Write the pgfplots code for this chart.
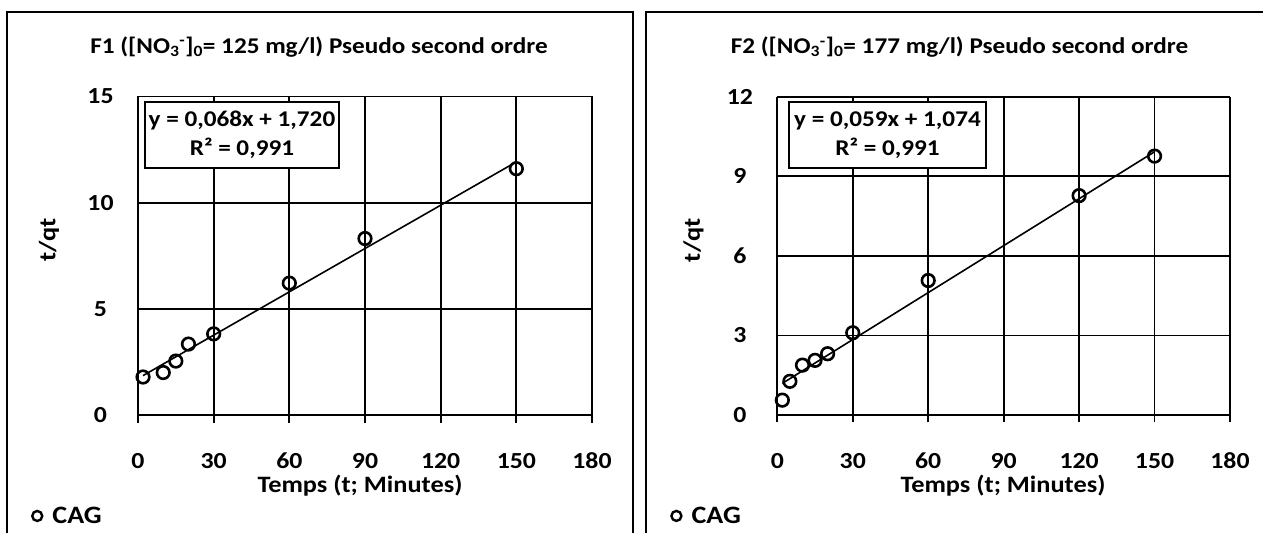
\documentclass[border=0pt]{standalone}
\usepackage{fontspec}
\setmainfont{Carlito}[FakeStretch=1.12]
\usepackage{pgfplots}
\pgfplotsset{compat=1.18}
\newcommand{\tickfont}{\bfseries\fontsize{23bp}{28bp}\selectfont}
\newcommand{\labfont}{\bfseries\fontsize{23.5bp}{28bp}\selectfont}
\newcommand{\titlefont}{\bfseries\fontsize{22.5bp}{28bp}\selectfont}
\newcommand{\boxfont}{\bfseries\fontsize{22.5bp}{29bp}\selectfont}
\newcommand{\legfont}{\bfseries\fontsize{25bp}{30bp}\selectfont}

\pgfplotsset{
  kin/.style={
    scale only axis, anchor=south west, clip=false,
    xmin=0, xmax=180, xtick={0,30,60,90,120,150,180},
    axis x line*=bottom, axis y line*=left,
    grid=major, major grid style={black, line width=1.8bp},
    axis line style={black, line width=1.8bp},
    tick align=outside, major tick length=7.5bp,
    xtick style={black, line width=1.8bp}, ytick style={draw=none},
    /pgf/number format/assume math mode=true,
    every tick label/.append style={font=\tickfont},
    xticklabel style={anchor=base, yshift=-46bp},
    yticklabel style={anchor=center, xshift=-30bp},
    label style={font=\labfont},
    title style={font=\titlefont, anchor=center},
    legend style={draw=none, fill=none, inner sep=0pt, anchor=west, font=\legfont},
  },
  pts/.style={only marks, mark=o, mark size=6.3bp,
    mark options={draw=black, fill=white, line width=2.6bp},
    legend image code/.code={\draw[line width=2.4bp, fill=white] (6bp,0bp) circle (5bp); \path (19bp,0bp);}},
  fit/.style={black, line width=1.6bp, no marks, forget plot},
}

\pgfplotstableread{
t    y
2    1.79
10   2.00
15   2.54
20   3.34
30   3.82
60   6.21
90   8.31
150  11.60
}\dataA

\pgfplotstableread{
t    y
2    0.56
5    1.27
10   1.88
15   2.06
20   2.31
30   3.10
60   5.07
120  8.27
150  9.76
}\dataB

\begin{document}
\begin{tikzpicture}[x=1bp, y=1bp]
\useasboundingbox (0bp,0bp) rectangle (1263bp,533bp);
% chart frames
\draw[line width=2.7bp] (7bp,-5bp) -- (7bp,521bp) -- (633bp,521bp) -- (633bp,-5bp);
\draw[line width=2.7bp] (646bp,-5bp) -- (646bp,521bp) -- (1270bp,521bp);

\begin{axis}[kin, at={(138bp,118bp)}, width=454bp, height=318.5bp,
  ymin=0, ymax=15, ytick={0,5,10,15},
  title={F1 ([NO\textsubscript{3}\textsuperscript{-}]\textsubscript{0}= 125 mg/l) Pseudo second ordre},
  title style={at={(axis description cs:0.3987,1.137)}},
  xlabel={Temps (t; Minutes)},
  xlabel style={at={(axis description cs:0.489,-0.223)}, anchor=center},
  ylabel={t/qt},
  ylabel style={at={(axis description cs:-0.196,0.549)}, anchor=center},
  legend style={at={(axis description cs:-0.236,-0.317)}},
]
\addplot[fit] coordinates {(2,1.856) (150,11.92)};
\addplot[pts] table[x=t, y=y] {\dataA};
\addlegendentry{CAG}
\node[draw, line width=2bp, fill=white, minimum width=194bp, minimum height=66bp,
  align=center, font=\boxfont, inner sep=0pt]
  at (axis description cs:0.229,0.879) {y = 0,068x + 1,720\\R² = 0,991};
\end{axis}

\begin{axis}[kin, at={(777.3bp,118bp)}, width=452.7bp, height=318.3bp,
  ymin=0, ymax=12, ytick={0,3,6,9,12},
  title={F2 ([NO\textsubscript{3}\textsuperscript{-}]\textsubscript{0}= 177 mg/l) Pseudo second ordre},
  title style={at={(axis description cs:0.4025,1.137)}},
  xlabel={Temps (t; Minutes)},
  xlabel style={at={(axis description cs:0.4986,-0.223)}, anchor=center},
  ylabel={t/qt},
  ylabel style={at={(axis description cs:-0.185,0.549)}, anchor=center},
  legend style={at={(axis description cs:-0.237,-0.317)}},
]
\addplot[fit] coordinates {(2,1.192) (150,9.924)};
\addplot[pts] table[x=t, y=y] {\dataB};
\addlegendentry{CAG}
\node[draw, line width=2bp, fill=white, minimum width=197bp, minimum height=66bp,
  align=center, font=\boxfont, inner sep=0pt]
  at (axis description cs:0.2434,0.879) {y = 0,059x + 1,074\\R² = 0,991};
\end{axis}
\end{tikzpicture}
\end{document}
